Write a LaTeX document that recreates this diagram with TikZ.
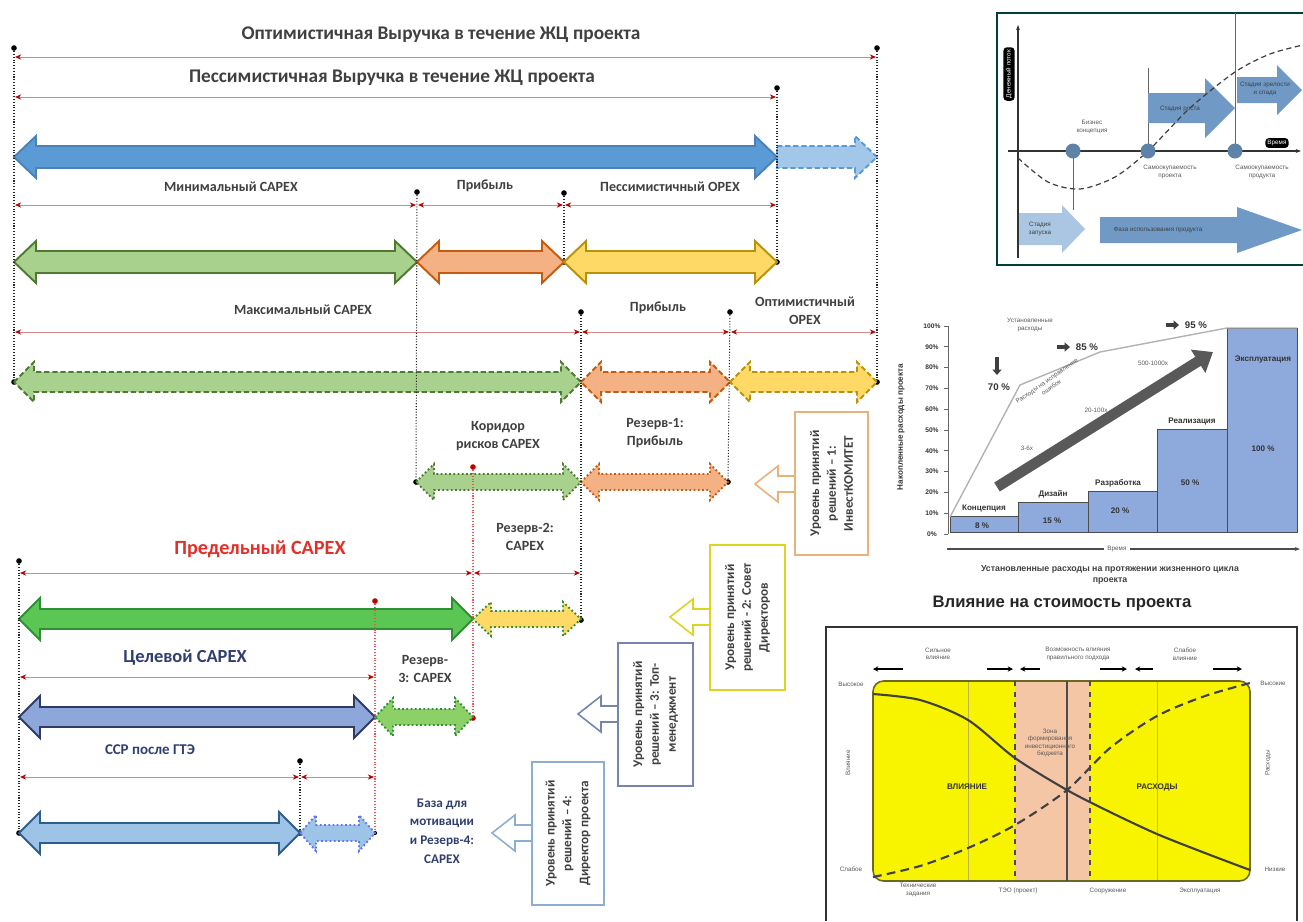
\documentclass[tikz,border=0pt]{standalone}
\usepackage{fontspec}
\setmainfont{Carlito}
\newfontfamily\chartfont{Liberation Sans}
\usetikzlibrary{arrows.meta,positioning,calc}

\definecolor{blueA}{HTML}{5B9BD5}
\definecolor{blueAd}{HTML}{4A82B8}
\definecolor{blueL}{HTML}{A3C7E8}
\definecolor{greenA}{HTML}{A9D18E}
\definecolor{greenAd}{HTML}{4E7A32}
\definecolor{orangeA}{HTML}{F4B183}
\definecolor{orangeAd}{HTML}{C55A11}
\definecolor{yellowA}{HTML}{FFD966}
\definecolor{yellowAd}{HTML}{B8930A}
\definecolor{greenB}{HTML}{5CC654}
\definecolor{greenBd}{HTML}{2F8F35}
\definecolor{greenC}{HTML}{8CD168}
\definecolor{navyA}{HTML}{8EA7DA}
\definecolor{navyAd}{HTML}{2F3B66}
\definecolor{lblue}{HTML}{9DC3E6}
\definecolor{lblued}{HTML}{2E5E8E}
\definecolor{dimred}{HTML}{D08A8A}
\definecolor{txtgrey}{HTML}{404040}
\definecolor{navytxt}{HTML}{2F3E6E}
\definecolor{redtxt}{HTML}{E0302A}
\definecolor{chartblue}{HTML}{7099C6}
\definecolor{chartlight}{HTML}{AAC6E2}
\definecolor{barfill}{HTML}{8EA9DB}
\definecolor{yelF}{HTML}{F8F400}
\definecolor{salmon}{HTML}{F5C6A6}

% block arrows: [style]{x1}{x2}{y}
\def\ahl{22}\def\ahh{21}\def\ash{11}
\newcommand\dblarr[4][]{\draw[#1] (#2,#4) -- ({#2+\ahl},{#4-\ahh}) -- ({#2+\ahl},{#4-\ash}) -- ({#3-\ahl},{#4-\ash}) -- ({#3-\ahl},{#4-\ahh}) -- (#3,#4) -- ({#3-\ahl},{#4+\ahh}) -- ({#3-\ahl},{#4+\ash}) -- ({#2+\ahl},{#4+\ash}) -- ({#2+\ahl},{#4+\ahh}) -- cycle;}
\newcommand\rarr[4][]{\draw[#1] (#2,{#4-\ash}) -- ({#3-\ahl},{#4-\ash}) -- ({#3-\ahl},{#4-\ahh}) -- (#3,#4) -- ({#3-\ahl},{#4+\ahh}) -- ({#3-\ahl},{#4+\ash}) -- (#2,{#4+\ash}) -- cycle;}
\newcommand\larr[4][]{\draw[#1] (#2,#4) -- ({#2+\ahl},{#4-\ahh}) -- ({#2+\ahl},{#4-\ash}) -- (#3,{#4-\ash}) -- (#3,{#4+\ash}) -- ({#2+\ahl},{#4+\ash}) -- ({#2+\ahl},{#4+\ahh}) -- cycle;}

\begin{document}
\begin{tikzpicture}
[x=0.02cm,y=-0.02cm,>=Stealth,
point/.style={circle,fill=black,inner sep=0pt,minimum size=3.2pt},
rpoint/.style={circle,fill=red!75!black,inner sep=0pt,minimum size=3.2pt},
dim/.style={draw=dimred,line width=0.45pt,{Stealth[length=3.5pt,width=3pt,color=red!70!black]}-{Stealth[length=3.5pt,width=3pt,color=red!70!black]},shorten <=0.6pt,shorten >=0.6pt},
vline/.style={densely dotted,line width=0.6pt,black!85},
rvline/.style={densely dotted,line width=0.6pt,red!70},
lbl/.style={font=\bfseries\fontsize{8}{10.2}\selectfont,text=txtgrey,align=center},
ttl/.style={font=\bfseries\fontsize{11}{13}\selectfont,text=txtgrey},
solidarr/.style={line width=1.1pt},
dasharr/.style={line width=1.1pt,dash pattern=on 3pt off 1.6pt},
dotarr/.style={line width=1.1pt,dash pattern=on 1pt off 1.4pt},
boxframe/.style={line width=0.9pt,fill=white},
boxtxt/.style={rotate=90,font=\bfseries\fontsize{7.5}{9.6}\selectfont,text=txtgrey,align=center},
smalltxt/.style={font=\chartfont\fontsize{3.6}{4.3}\selectfont,text=black!65,align=center,inner sep=0.5pt},
chartbold/.style={font=\chartfont\bfseries\fontsize{4.6}{5.4}\selectfont,text=black!80,align=center,inner sep=0.5pt},
barbox/.style={fill=barfill,draw=black!70,line width=0.4pt},
]
\useasboundingbox (0,0) rectangle (1303,921);

% ---------------- revenue / capex bands ----------------
\node[ttl] (tOpt) at (441,35) {Оптимистичная Выручка в течение ЖЦ проекта};
\node[ttl] (tPes) at (392,78) {Пессимистичная Выручка в течение ЖЦ проекта};

\node (a0) at (14,48)[point]{};
\node (a1) at (877,48)[point]{};
\node (b1) at (777,88)[point]{};
\node (c1) at (417,192)[point]{};
\node (c2) at (564,193)[point]{};
\node (c3) at (777,262)[point]{};
\node (c4) at (564,262)[point]{};
\node (e1) at (581,312)[point]{};
\node (e2) at (730,312)[point]{};
\node (f0) at (14,382)[point]{};
\node (f1) at (877,382)[point]{};
\node (g0) at (416,482)[point]{};
\node (g1) at (728,482)[point]{};
\node (r1) at (473,467)[rpoint]{};
\node (h1) at (581,620)[point]{};
\node (i0) at (19,561)[point]{};
\node (r2) at (375,601)[rpoint]{};
\node (r3) at (473,718)[rpoint]{};
\node (k1) at (300,761)[point]{};
\node (m0) at (19,833)[point]{};
\node (m1) at (300,833)[point]{};
\node (m2) at (375,833)[point,minimum size=2.4pt]{};

\draw[dim] (a0 |- 0,57) -- (a1 |- 0,57);
\draw[dim] (a0 |- 0,97) -- (b1 |- 0,97);

% main arrows
\dblarr[fill=blueA,draw=blueAd,solidarr]{14}{777}{157}
\rarr[fill=blueL,draw=blueA,dasharr]{777}{877}{157}

\node[lbl] (lMin) at (231,187) {Минимальный CAPEX};
\node[lbl] (lPr1) at (485,186) {Прибыль};
\node[lbl] (lPes) at (670,187) {Пессимистичный OPEX};
\draw[dim] (a0 |- 0,205) -- (c1 |- 0,205);
\draw[dim] (c1 |- 0,205) -- (c2 |- 0,205);
\draw[dim] (c2 |- 0,205) -- (b1 |- 0,205);
\def\ash{11}
\dblarr[fill=greenA,draw=greenAd,solidarr]{14}{417}{262}
\dblarr[fill=orangeA,draw=orangeAd,solidarr]{417}{564}{262}
\dblarr[fill=yellowA,draw=yellowAd,solidarr]{564}{777}{262}

\node[lbl] (lMax) at (303,310) {Максимальный CAPEX};
\node[lbl] (lPr2) at (658,308) {Прибыль};
\node[lbl] (lOpt) at (805,311) {Оптимистичный\\OPEX};
\draw[dim] (a0 |- 0,332) -- (e1 |- 0,332);
\draw[dim] (e1 |- 0,332) -- (e2 |- 0,332);
\draw[dim] (e2 |- 0,332) -- (a1 |- 0,332);
\def\ahh{20}\def\ash{10}\def\ahl{20}
\dblarr[fill=greenA,draw=greenAd,dasharr]{14}{581}{382}
\dblarr[fill=orangeA,draw=orangeAd,dasharr]{581}{730}{382}
\dblarr[fill=yellowA,draw=yellowAd,dasharr]{730}{877}{382}

% risk corridor and reserves
\node[lbl] (lKor) at (498,436) {Коридор\\рисков CAPEX};
\node[lbl] (lRz1) at (655,433) {Резерв-1:\\Прибыль};
\def\ahh{18}\def\ash{8}\def\ahl{18}
\dblarr[fill=greenA,draw=greenAd,dotarr]{416}{581}{482}
\dblarr[fill=orangeA,draw=orangeAd,dotarr]{581}{728}{482}

\node[lbl] (lRz2) at (525,537) {Резерв-2:\\CAPEX};
\node[font=\bfseries\fontsize{11.5}{13}\selectfont,text=redtxt] (lPred) at (260,549) {Предельный CAPEX};
\draw[dim] (i0 |- 0,573) -- (r1 |- 0,573);
\draw[dim] (r1 |- 0,573) -- (e1 |- 0,573);
\def\ahh{21}\def\ash{10}\def\ahl{21}
\dblarr[fill=greenB,draw=greenBd,solidarr]{19}{473}{619}
\def\ahh{17}\def\ash{8}\def\ahl{18}
\dblarr[fill=yellowA,draw=greenBd,dotarr]{473}{581}{619}

\node[font=\bfseries\fontsize{10.5}{12}\selectfont,text=navytxt] (lCel) at (185,658) {Целевой CAPEX};
\node[lbl] (lRz3) at (425,669) {Резерв-\\3: CAPEX};
\draw[dim] (i0 |- 0,677) -- (r2 |- 0,677);
\def\ahh{21}\def\ash{10}\def\ahl{21}
\dblarr[fill=navyA,draw=navyAd,solidarr]{19}{375}{717}
\def\ahh{19}\def\ash{8}\def\ahl{18}
\dblarr[fill=greenC,draw=greenBd,dotarr]{375}{473}{717}

\node[font=\bfseries\fontsize{8.5}{10}\selectfont,text=navytxt] (lSsr) at (150,750) {ССР после ГТЭ};
\draw[dim] (i0 |- 0,777) -- (k1 |- 0,777);
\draw[dim] (k1 |- 0,777) -- (r2 |- 0,777);
\def\ahh{21}\def\ash{10}\def\ahl{21}
\dblarr[fill=lblue,draw=lblued,solidarr]{19}{300}{833}
\def\ahh{18}\def\ash{8}\def\ahl{16}
\dblarr[fill=lblue,draw=lblue!60!blue,dotarr]{300}{375}{833}
\node[font=\bfseries\fontsize{7.5}{10.6}\selectfont,text=navytxt,align=center] (lBaza) at (442,831) {База для\\мотивации\\и Резерв-4:\\CAPEX};

% guide lines
\draw[vline] (a0) -- (f0);
\draw[vline] (a1) -- (f1);
\draw[vline] (b1) -- (c3);
\draw[vline] (c1) -- (g0);
\draw[vline] (c2) -- (c4);
\draw[vline] (e1) -- (h1);
\draw[vline] (e2) -- (g1);
\draw[rvline] (r1) -- (r3);
\draw[rvline] (r2) -- (m2);
\draw[vline] (i0) -- (m0);
\draw[vline] (k1) -- (m1);

% decision levels
\def\ahh{18}\def\ash{8}\def\ahl{23}
\larr[fill=white,draw=orange!45!brown!60,line width=0.9pt]{755}{796}{484}
\draw[boxframe,draw=orange!45!brown!60] (795,412) rectangle (868,555);
\node[boxtxt] (lvl1) at (831.5,483.5) {Уровень принятий\\решений – 1:\\ИнвестКОМИТЕТ};
\larr[fill=white,draw=yellow!85!black,line width=0.9pt]{670}{711}{617}
\draw[boxframe,draw=yellow!85!black] (710,545) rectangle (785,690);
\node[boxtxt] (lvl2) at (747.5,617.5) {Уровень принятий\\решений - 2: Совет\\Директоров};
\larr[fill=white,draw=navyA!80!black,line width=0.9pt]{578}{619}{714}
\draw[boxframe,draw=navyA!80!black] (618,643) rectangle (693,786);
\node[boxtxt] (lvl3) at (655.5,714.5) {Уровень принятий\\решений – 3: Топ-\\менеджмент};
\larr[fill=white,draw=lblue!90!black,line width=0.9pt]{492}{533}{833}
\draw[boxframe,draw=lblue!90!black] (532,762) rectangle (604,905);
\node[boxtxt] (lvl4) at (568,833.5) {Уровень принятий\\решений – 4:\\Директор проекта};

% ---------------- inset 1: cash flow ----------------
\draw[line width=1.1pt,draw=teal!50!black] (1310,13) -- (997,13) -- (997,265) -- (1310,265);
\draw[black!60,line width=0.4pt] (1073,151) -- (1073,210);
\draw[black!60,line width=0.4pt] (1148,68) -- (1148,151);
\draw[black!60,line width=0.4pt] (1235,13) -- (1235,151);
\def\ahh{30}\def\ash{15}\def\ahl{30}
\rarr[fill=chartblue,draw=none]{1148}{1235}{108}
\def\ahh{25}\def\ash{13}\def\ahl{25}
\rarr[fill=chartblue,draw=none]{1237}{1302}{90}
\def\ahh{24}\def\ash{16}\def\ahl{23}
\rarr[fill=chartlight,draw=none]{1018}{1085}{229}
\def\ahh{23}\def\ash{13}\def\ahl{65}
\rarr[fill=chartblue,draw=none]{1100}{1302}{230}
\draw[black!80,line width=0.6pt,-{Stealth[length=3pt]}] (1018,258) -- (1018,25);
\draw[black!80,line width=0.6pt,-{Stealth[length=3pt]}] (1008,151) -- (1301,151);
\draw[densely dashed,black!75,line width=0.7pt] plot[smooth] coordinates {(1018,158) (1048,182) (1080,189) (1115,177) (1148,151) (1190,108) (1235,72) (1270,54) (1303,45)};
\foreach \cx in {1073,1148,1235}
  \fill[chartblue!85!black] (\cx,151) circle (7.5);
\node[smalltxt,rotate=90,fill=black,text=white,rounded corners=2pt,inner sep=1.5pt] (cfy) at (1009,74) {Денежный поток};
\node[smalltxt,fill=black,text=white,rounded corners=2pt,inner sep=1.2pt] (cfx) at (1277,143) {Время};
\node[smalltxt] (cf1) at (1092,127) {Бизнес\\концепция};
\node[smalltxt] (cf2) at (1170,172) {Самоокупаемость\\проекта};
\node[smalltxt] (cf3) at (1262,172) {Самоокупаемость\\продукта};
\node[smalltxt,text=black!75] (cf4) at (1180,109) {Стадия роста};
\node[smalltxt,text=black!75] (cf5) at (1265,89) {Стадия зрелости\\и спада};
\node[smalltxt,text=black!75] (cf6) at (1040,229) {Стадия\\запуска};
\node[smalltxt,text=black!75] (cf7) at (1158,230) {Фаза использования продукта};

% ---------------- inset 2: accumulated costs ----------------
\draw[black!60,line width=0.5pt] (948,326) -- (948,534);
\foreach \i in {0,...,10}{
  \draw[black!60,line width=0.4pt] (944,{534-20.8*\i}) -- (948,{534-20.8*\i});
  \pgfmathtruncatemacro\pc{10*\i}
  \node[chartbold,font=\chartfont\bfseries\fontsize{3.8}{4.4}\selectfont] at (932,{534-20.8*\i}) {\pc\%};
}
\node[chartbold,rotate=90] (acy) at (901,427) {Накопленные расходы проекта};
\draw[barbox] (950,516) rectangle (1018,532);
\draw[barbox] (1018,502) rectangle (1088,532);
\draw[barbox] (1088,491) rectangle (1157,532);
\draw[barbox] (1157,429) rectangle (1227,532);
\draw[barbox] (1227,328) rectangle (1297,532);
\draw[black!30,line width=0.8pt] (950,517) -- (1020,385) -- (1100,352) -- (1227,328) -- (1297,328);
\draw[black!65,line width=6pt,-{Triangle[length=10pt,width=15pt]}] (997,487) -- (1213,352);
\node[chartbold,fill=white,inner sep=1pt] (b1t) at (984,509) {Концепция};
\node[chartbold] (b2t) at (1053,494) {Дизайн};
\node[chartbold] (b3t) at (1118,483) {Разработка};
\node[chartbold] (b4t) at (1192,422) {Реализация};
\node[chartbold] (b5t) at (1263,360) {Эксплуатация};
\node[chartbold] (b1p) at (982,526) {8 \%};
\node[chartbold] (b2p) at (1052,521) {15 \%};
\node[chartbold] (b3p) at (1120,511) {20 \%};
\node[chartbold] (b4p) at (1190,483) {50 \%};
\node[chartbold] (b5p) at (1263,449) {100 \%};
\node[smalltxt] (ac1) at (1030,325) {Установленные\\расходы};
\draw[black!75,line width=2pt,-{Triangle[length=3pt,width=5pt]}] (997,357) -- (997,375);
\node[chartbold,font=\chartfont\bfseries\fontsize{5.5}{6}\selectfont] (ac70) at (999,387) {70 \%};
\draw[black!75,line width=2pt,-{Triangle[length=3pt,width=5pt]}] (1057,347) -- (1070,347);
\node[chartbold,font=\chartfont\bfseries\fontsize{5.5}{6}\selectfont] (ac85) at (1087,347) {85 \%};
\draw[black!75,line width=2pt,-{Triangle[length=3pt,width=5pt]}] (1166,325) -- (1179,325);
\node[chartbold,font=\chartfont\bfseries\fontsize{5.5}{6}\selectfont] (ac95) at (1196,325) {95 \%};
\node[smalltxt,rotate=35] (acerr) at (1049,384) {Расходы на исправление\\ошибок};
\node[smalltxt] (acx1) at (1027,448) {3-6x};
\node[smalltxt] (acx2) at (1096,410) {20-100x};
\node[smalltxt] (acx3) at (1153,363) {500-1000x};
\draw[black!70,line width=0.6pt,-{Stealth[length=3pt]}] (947,549) -- (1300,549);
\node[smalltxt,fill=white,inner sep=2pt] (acx) at (1117,549) {Время};
\node[chartbold,font=\chartfont\bfseries\fontsize{5}{6.5}\selectfont,text=black!75] (accap) at (1110,575) {Установленные расходы на протяжении жизненного цикла\\проекта};

% ---------------- inset 3: influence vs cost ----------------
\node[font=\chartfont\bfseries\fontsize{9.5}{11}\selectfont,text=black!85] (ttlinf) at (1062,603) {Влияние на стоимость проекта};
\draw[black!80,line width=1.1pt] (826,921) -- (826,627) -- (1297,627) -- (1297,921);
\draw[fill=yelF,draw=olive!70!black,line width=0.9pt,rounded corners=6pt] (873,681) rectangle (1250,881);
\fill[salmon] (1015,682) rectangle (1090,880);
\draw[olive!60,line width=0.4pt] (968,682) -- (968,880);
\draw[olive!60,line width=0.4pt] (1157,682) -- (1157,880);
\draw[dashed,black!70,line width=0.6pt] (1015,681) -- (1015,881);
\draw[dashed,black!70,line width=0.6pt] (1090,681) -- (1090,881);
\draw[black!70,line width=0.6pt] (1067,681) -- (1067,881);
\draw[black!75,line width=1.2pt] plot[smooth] coordinates {(873,694) (920,700) (968,720) (1015,758) (1067,790) (1110,812) (1157,834) (1205,853) (1250,870)};
\draw[black!75,line width=1.2pt,dash pattern=on 5pt off 3pt] plot[smooth] coordinates {(873,877) (920,866) (968,848) (1015,825) (1067,790) (1110,748) (1157,716) (1205,696) (1250,683)};
\foreach \xa/\xb in {903/873,987/1013,1040/1020,1100/1127,1153/1135,1213/1242}
  \draw[black,line width=0.8pt,-{Stealth[length=3pt,width=3pt]}] (\xa,669) -- (\xb,669);
\node[smalltxt] (in1) at (938,654) {Сильное\\влияние};
\node[smalltxt] (in2) at (1078,654) {Возможность влияния\\правильного подхода};
\node[smalltxt] (in3) at (1185,654) {Слабое\\влияние};
\node[smalltxt] (in4) at (851,684) {Высокое};
\node[smalltxt] (in5) at (851,869) {Слабое};
\node[smalltxt] (in6) at (1273,683) {Высокие};
\node[smalltxt] (in7) at (1275,869) {Низкие};
\node[smalltxt,rotate=90] (in8) at (848,763) {Влияние};
\node[smalltxt,rotate=90] (in9) at (1268,763) {Расходы};
\node[chartbold] (in10) at (967,787) {ВЛИЯНИЕ};
\node[chartbold] (in11) at (1157,787) {РАСХОДЫ};
\node[smalltxt] (in12) at (1050,743) {Зона\\формирования\\инвестиционного\\бюджета};
\node[smalltxt] (in13) at (918,890) {Технические\\задания};
\node[smalltxt] (in14) at (1018,891) {ТЭО (проект)};
\node[smalltxt] (in15) at (1108,891) {Сооружение};
\node[smalltxt] (in16) at (1200,891) {Эксплуатация};
\end{tikzpicture}
\end{document}
